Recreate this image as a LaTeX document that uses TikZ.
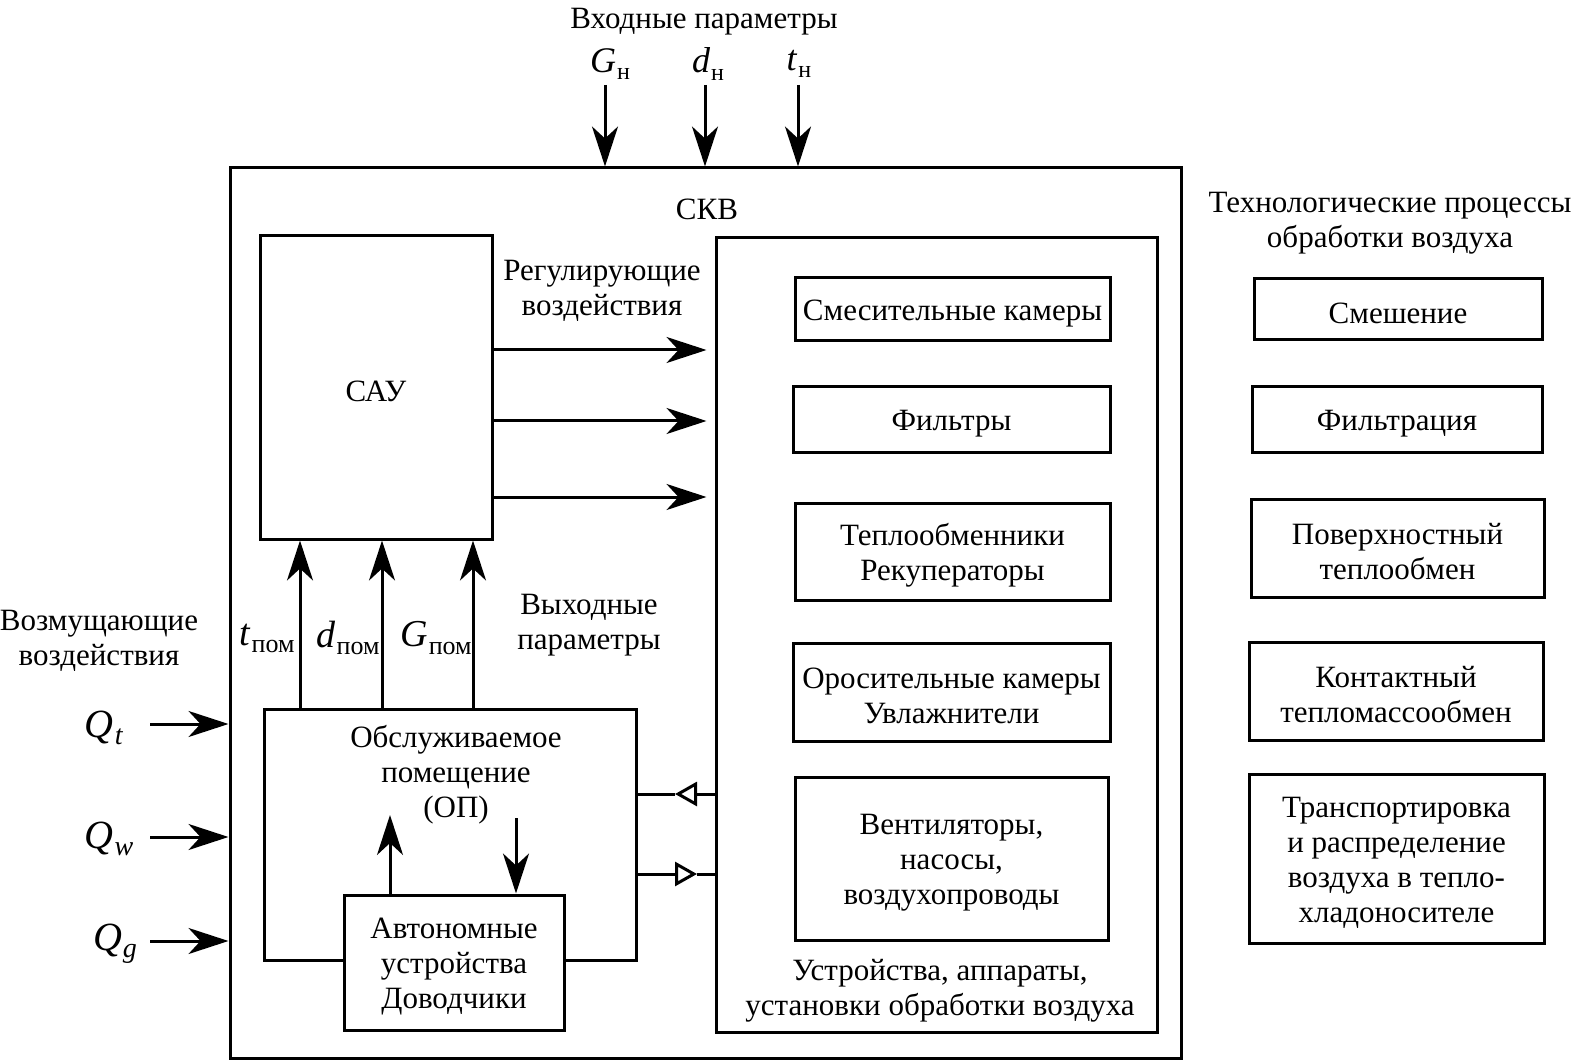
\documentclass[tikz,border=0pt]{standalone}
\usepackage{fontspec}
\setmainfont{Liberation Serif}
\usetikzlibrary{arrows.meta,positioning}

% parameter with subscript
\newcommand{\prm}[4]{{\fontsize{#3}{#3}\selectfont\textit{#1}}\kern.5pt\raisebox{-.5ex}{\fontsize{#4}{#4}\selectfont #2}}

\tikzset{
  box/.style={draw, line width=1.5pt, align=center, inner sep=0pt},
  pbox/.style 2 args={box, minimum width=#1*0.5pt, minimum height=#2*0.5pt},
  lbl/.style={align=center, inner sep=1pt, yshift=-2pt},
  txt/.style={label={[lbl]center:{#1}}},
  arr/.style={line width=1.5pt, -{Stealth[length=20pt,width=13pt,inset=6pt]}},
  tri/.style={line width=1.5pt, -{Triangle[open,length=11pt,width=12pt,line width=1.5pt]}},
}

\begin{document}
\begin{tikzpicture}[x=0.5pt,y=-0.5pt, font=\fontsize{15.5}{17.5}\selectfont]
  \useasboundingbox (0,0) rectangle (1572,1063);

  %%%%%%%%%%%%%%%%% blocks %%%%%%%%%%%%%%%%%%%
  % centre x;y   width x height in pixels of the sheet
  \node[pbox={951}{890}] (skv) at (705.5,613) {};
  \node[pbox={232}{303}, txt={САУ}] (sau) at (376,387.5) {};
  \node[pbox={441}{794}] (ust) at (936.5,635) {};
  \node[pbox={372}{251}] (op) at (450,834.5) {};
  \node[pbox={220}{135}, fill=white, txt={Автономные\\устройства\\Доводчики}] (aut) at (454,962.5) {};

  % devices, inside the right block
  \node[pbox={315}{63}, txt={Смесительные камеры}] (smes) at (952.5,309.5) {};
  \node[pbox={317}{66}, txt={Фильтры}] (filt) at (951.5,420) {};
  \node[pbox={315}{97}, txt={Теплообменники\\Рекуператоры}] (tepl) at (952.5,551.5) {};
  \node[pbox={317}{98}, txt={Оросительные камеры\\Увлажнители}] (oros) at (951.5,692) {};
  \node[pbox={313}{163}, txt={Вентиляторы,\\насосы,\\воздухопроводы}] (vent) at (951.5,858.5) {};

  % processes, right column
  \node[pbox={288}{61}, txt={Смешение}] (mix) at (1398,309.5) {};
  \node[pbox={290}{66}, txt={Фильтрация}] (filtr) at (1397,420) {};
  \node[pbox={293}{98}, txt={Поверхностный\\теплообмен}] (pov) at (1397.5,548) {};
  \node[pbox={294}{98}, txt={Контактный\\тепломассообмен}] (kont) at (1396,691) {};
  \node[pbox={295}{169}, txt={Транспортировка\\и распределение\\воздуха в тепло-\\хладоносителе}] (trans) at (1396.5,858.5) {};

  %%%%%%%%%%%%%%%%% labels %%%%%%%%%%%%%%%%%%%
  \node[lbl] (inp) at (704,18) {Входные параметры};
  \node[lbl] (skvl) at (707,205) {СКВ};
  \node[lbl] (reg) at (602,287) {Регулирующие\\воздействия};
  \node[lbl] (vyh) at (589,621) {Выходные\\параметры};
  \node[lbl] (voz) at (99,637) {Возмущающие\\воздействия};
  \node[lbl] (tech) at (1390,219) {Технологические процессы\\обработки воздуха};
  \node[lbl] (ustl) at (940,987) {Устройства, аппараты,\\установки обработки воздуха};
  \node[lbl] (opl) at (456,771) {Обслуживаемое\\помещение\\(ОП)};

  \node[lbl] (gn) at (610,60) {\prm{G}{н}{18}{12}};
  \node[lbl] (dn) at (708,60) {\prm{d}{н}{18}{12}};
  \node[lbl] (tn) at (799,60) {\prm{t}{н}{18}{12}};
  \node[lbl] (tp) at (267,634) {\prm{t}{пом}{19}{13}};
  \node[lbl] (dp) at (348,634) {\prm{d}{пом}{19}{13}};
  \node[lbl] (gp) at (436,634) {\prm{G}{пом}{19}{13}};
  \node[lbl] (qt) at (104,724) {\prm{Q}{\textit{t}}{20}{14}};
  \node[lbl] (qw) at (109,835) {\prm{Q}{\textit{w}}{20}{14}};
  \node[lbl] (qg) at (115,940) {\prm{Q}{\textit{g}}{20}{14}};

  %%%%%%%%%%%%%%%%% connectors %%%%%%%%%%%%%%%%%%%
  \foreach \x in {605,705,798}
    {\draw[arr] (\x,85) -- (skv.north -| \x,0);}
  \foreach \y in {724,837,941}
    {\draw[arr] (150,\y) -- (skv.west |- 0,\y);}
  \foreach \y in {350,421,497}
    {\draw[arr, shorten >=4pt] (sau.east |- 0,\y) -- (ust.west |- 0,\y);}
  \foreach \x in {300,382,473}
    {\draw[arr] (op.north -| \x,0) -- (sau.south -| \x,0);}

  % room and local units
  \coordinate (up) at (390,815);
  \coordinate (dw) at (516,818);
  \draw[arr] (aut.north -| up) -- (up);
  \draw[arr] (dw) -- (aut.north -| dw);

  % air supply to the room
  \coordinate (m1) at (675,794);
  \coordinate (m2) at (697,874);
  \draw[tri] (ust.west |- m1) -- (m1);
  \draw[line width=1.5pt] (m1) -- (op.east |- m1);
  \draw[tri] (op.east |- m2) -- (m2);
  \draw[line width=1.5pt] (m2) -- (ust.west |- m2);
\end{tikzpicture}
\end{document}
